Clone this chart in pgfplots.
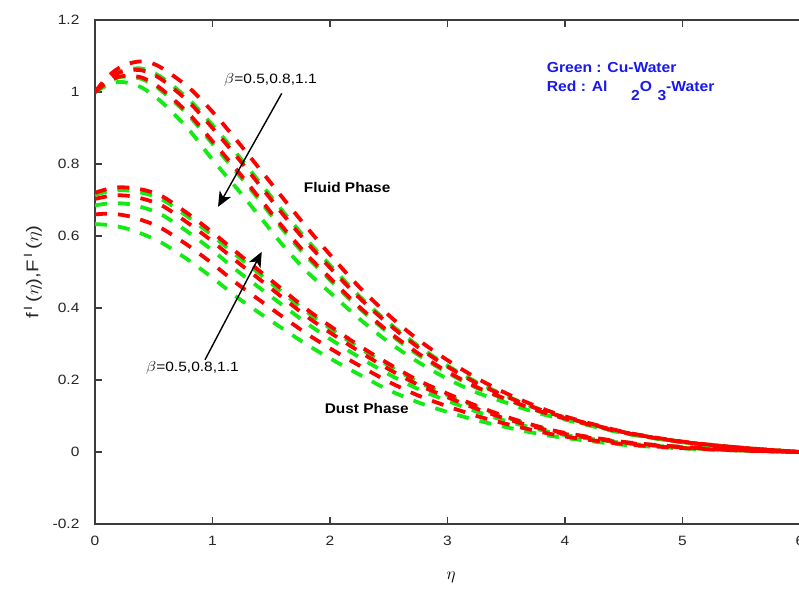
\documentclass[border=0pt]{standalone}
\usepackage{fontspec}
\setmainfont{Liberation Sans}
\usepackage{graphicx}
\usepackage{pgfplots}
\usepackage{pgfplotstable}
\pgfplotsset{compat=1.18}
\usetikzlibrary{arrows.meta}
\definecolor{cgreen}{RGB}{20,235,20}
\definecolor{cred}{RGB}{255,0,0}
\definecolor{cblue}{RGB}{25,25,235}
\definecolor{axgray}{RGB}{60,60,60}

\pgfplotstableread{
eta G3 G2 G1 R3 R2 R1
0 1 1 1 1 1 1
0.1 1.018 1.025 1.034 1.026 1.033 1.040
0.2 1.028 1.041 1.055 1.042 1.053 1.066
0.3 1.024 1.042 1.064 1.045 1.061 1.080
0.4 1.012 1.036 1.065 1.040 1.060 1.085
0.5 0.990 1.019 1.053 1.023 1.048 1.078
0.6 0.962 0.994 1.033 0.999 1.027 1.060
0.8 0.895 0.934 0.979 0.939 0.972 1.012
1.0 0.812 0.856 0.908 0.863 0.900 0.945
1.2 0.735 0.779 0.831 0.786 0.823 0.868
1.4 0.655 0.699 0.750 0.705 0.742 0.787
1.6 0.574 0.617 0.668 0.624 0.660 0.705
1.8 0.502 0.543 0.591 0.549 0.583 0.625
2.0 0.443 0.478 0.519 0.483 0.512 0.548
2.25 0.370 0.399 0.433 0.403 0.428 0.458
2.5 0.305 0.330 0.359 0.334 0.355 0.380
2.75 0.250 0.270 0.295 0.274 0.291 0.312
3.0 0.203 0.220 0.240 0.223 0.237 0.255
3.25 0.165 0.178 0.194 0.180 0.191 0.205
3.5 0.137 0.146 0.156 0.147 0.154 0.163
3.75 0.110 0.116 0.123 0.117 0.122 0.128
4.0 0.090 0.093 0.096 0.093 0.096 0.099
4.5 0.052 0.053 0.055 0.054 0.055 0.056
5.0 0.027 0.028 0.028 0.028 0.028 0.029
5.5 0.011 0.011 0.012 0.011 0.012 0.012
6.0 0 0 0 0 0 0
}\fluid

\pgfplotstableread{
eta G3 G2 G1 R3 R2 R1
0 0.633 0.685 0.714 0.660 0.703 0.720
0.1 0.631 0.690 0.723 0.662 0.710 0.730
0.2 0.626 0.691 0.727 0.660 0.713 0.735
0.3 0.618 0.688 0.726 0.654 0.711 0.734
0.4 0.606 0.680 0.720 0.644 0.704 0.729
0.5 0.592 0.669 0.711 0.632 0.694 0.720
0.6 0.575 0.653 0.696 0.615 0.679 0.705
0.8 0.532 0.609 0.651 0.572 0.634 0.660
1.0 0.484 0.560 0.601 0.523 0.585 0.610
1.2 0.432 0.506 0.547 0.470 0.531 0.556
1.4 0.386 0.456 0.495 0.422 0.480 0.503
1.6 0.342 0.407 0.442 0.375 0.428 0.450
1.8 0.299 0.358 0.390 0.329 0.377 0.397
2.0 0.260 0.314 0.344 0.288 0.332 0.350
2.25 0.215 0.263 0.289 0.240 0.279 0.295
2.5 0.172 0.216 0.240 0.195 0.230 0.245
2.75 0.138 0.175 0.195 0.157 0.187 0.199
3.0 0.111 0.142 0.158 0.127 0.152 0.162
3.25 0.088 0.112 0.125 0.100 0.120 0.128
3.5 0.069 0.086 0.096 0.078 0.092 0.098
3.75 0.052 0.065 0.072 0.059 0.069 0.073
4.0 0.039 0.047 0.052 0.043 0.050 0.053
4.5 0.020 0.025 0.027 0.022 0.026 0.028
5.0 0.010 0.012 0.014 0.011 0.013 0.014
5.5 0.004 0.004 0.005 0.004 0.005 0.005
6.0 0 0 0 0 0 0
}\dust

\begin{document}
\begin{tikzpicture}
\path[use as bounding box] (0,0) rectangle (799pt,592pt);
\begin{axis}[
  at={(95pt,68pt)}, anchor=south west,
  scale only axis, width=705pt, height=504pt,
  xmin=0, xmax=6, ymin=-0.2, ymax=1.2,
  xtick={0,1,2,3,4,5,6}, xticklabels={0,1,2,3,4,5,6},
  ytick={-0.2,0,0.2,0.4,0.6,0.8,1,1.2},
  yticklabels={-0.2,0,0.2,0.4,0.6,0.8,1,1.2},
  ytick pos=left, xtick pos=both,
  tick align=inside, major tick length=7pt,
  axis line style={axgray, line width=1.2pt},
  every tick/.style={axgray, line width=1.2pt},
  ticklabel style={font=\fontsize{13.5}{15}\selectfont, text=black!85, xscale=1.15},
  xticklabel style={yshift=-9pt},
  yticklabel style={xshift=-10pt},
  xlabel={$\eta$},
  xlabel style={font=\fontsize{18}{19}\selectfont, at={(axis description cs:0.505,-0.107)}, anchor=center},
  ylabel={f\textsuperscript{\,I}\,($\eta$),F\textsuperscript{\,I}\,($\eta$)},
  ylabel style={font=\fontsize{17}{18}\selectfont, text=black!85, at={(axis description cs:-0.088,0.50)}, anchor=center, xscale=1.2},
  every axis plot/.style={line width=3.8pt, dash pattern=on 12pt off 11pt, smooth},
  clip=true,
]
\addplot[cgreen] table[x=eta,y=G3] {\fluid};
\addplot[cgreen] table[x=eta,y=G2] {\fluid};
\addplot[cgreen] table[x=eta,y=G1] {\fluid};
\addplot[cgreen] table[x=eta,y=G3] {\dust};
\addplot[cgreen] table[x=eta,y=G2] {\dust};
\addplot[cgreen] table[x=eta,y=G1] {\dust};
\addplot[cred] table[x=eta,y=R3] {\fluid};
\addplot[cred] table[x=eta,y=R2] {\fluid};
\addplot[cred] table[x=eta,y=R1] {\fluid};
\addplot[cred] table[x=eta,y=R3] {\dust};
\addplot[cred] table[x=eta,y=R2] {\dust};
\addplot[cred] table[x=eta,y=R1] {\dust};

\node[anchor=west, font=\fontsize{14}{16}\selectfont\bfseries, xscale=1.1] at (axis cs:1.745,0.736) {Fluid Phase};
\node[anchor=west, font=\fontsize{14}{16}\selectfont\bfseries, xscale=1.1] at (axis cs:1.923,0.122) {Dust Phase};
\node[anchor=west, font=\fontsize{14.5}{16}\selectfont\bfseries, text=cblue, xscale=1.08] at (axis cs:3.813,1.067) {Green : Cu-Water};
\node[anchor=west, font=\fontsize{14.5}{16}\selectfont\bfseries, text=cblue, xscale=1.08] at (axis cs:3.813,1.003) {Red : Al\hspace{22pt}\raisebox{-9pt}{2}O\hspace{5pt}\raisebox{-9pt}{3}-Water};
\node[anchor=west, font=\fontsize{13.5}{15}\selectfont, xscale=1.15, inner sep=0pt] at (axis cs:1.098,1.033) {$\beta$=0.5,0.8,1.1};
\node[anchor=west, font=\fontsize{13.5}{15}\selectfont, xscale=1.15, inner sep=0pt] at (axis cs:0.434,0.233) {$\beta$=0.5,0.8,1.1};
\draw[-{Stealth[length=15pt,width=13pt,inset=4pt]}, line width=1.4pt] (axis cs:1.589,0.996) -- (axis cs:1.047,0.681);
\draw[-{Stealth[length=15pt,width=13pt,inset=4pt]}, line width=1.4pt] (axis cs:0.936,0.256) -- (axis cs:1.419,0.556);
\end{axis}
\end{tikzpicture}
\end{document}
